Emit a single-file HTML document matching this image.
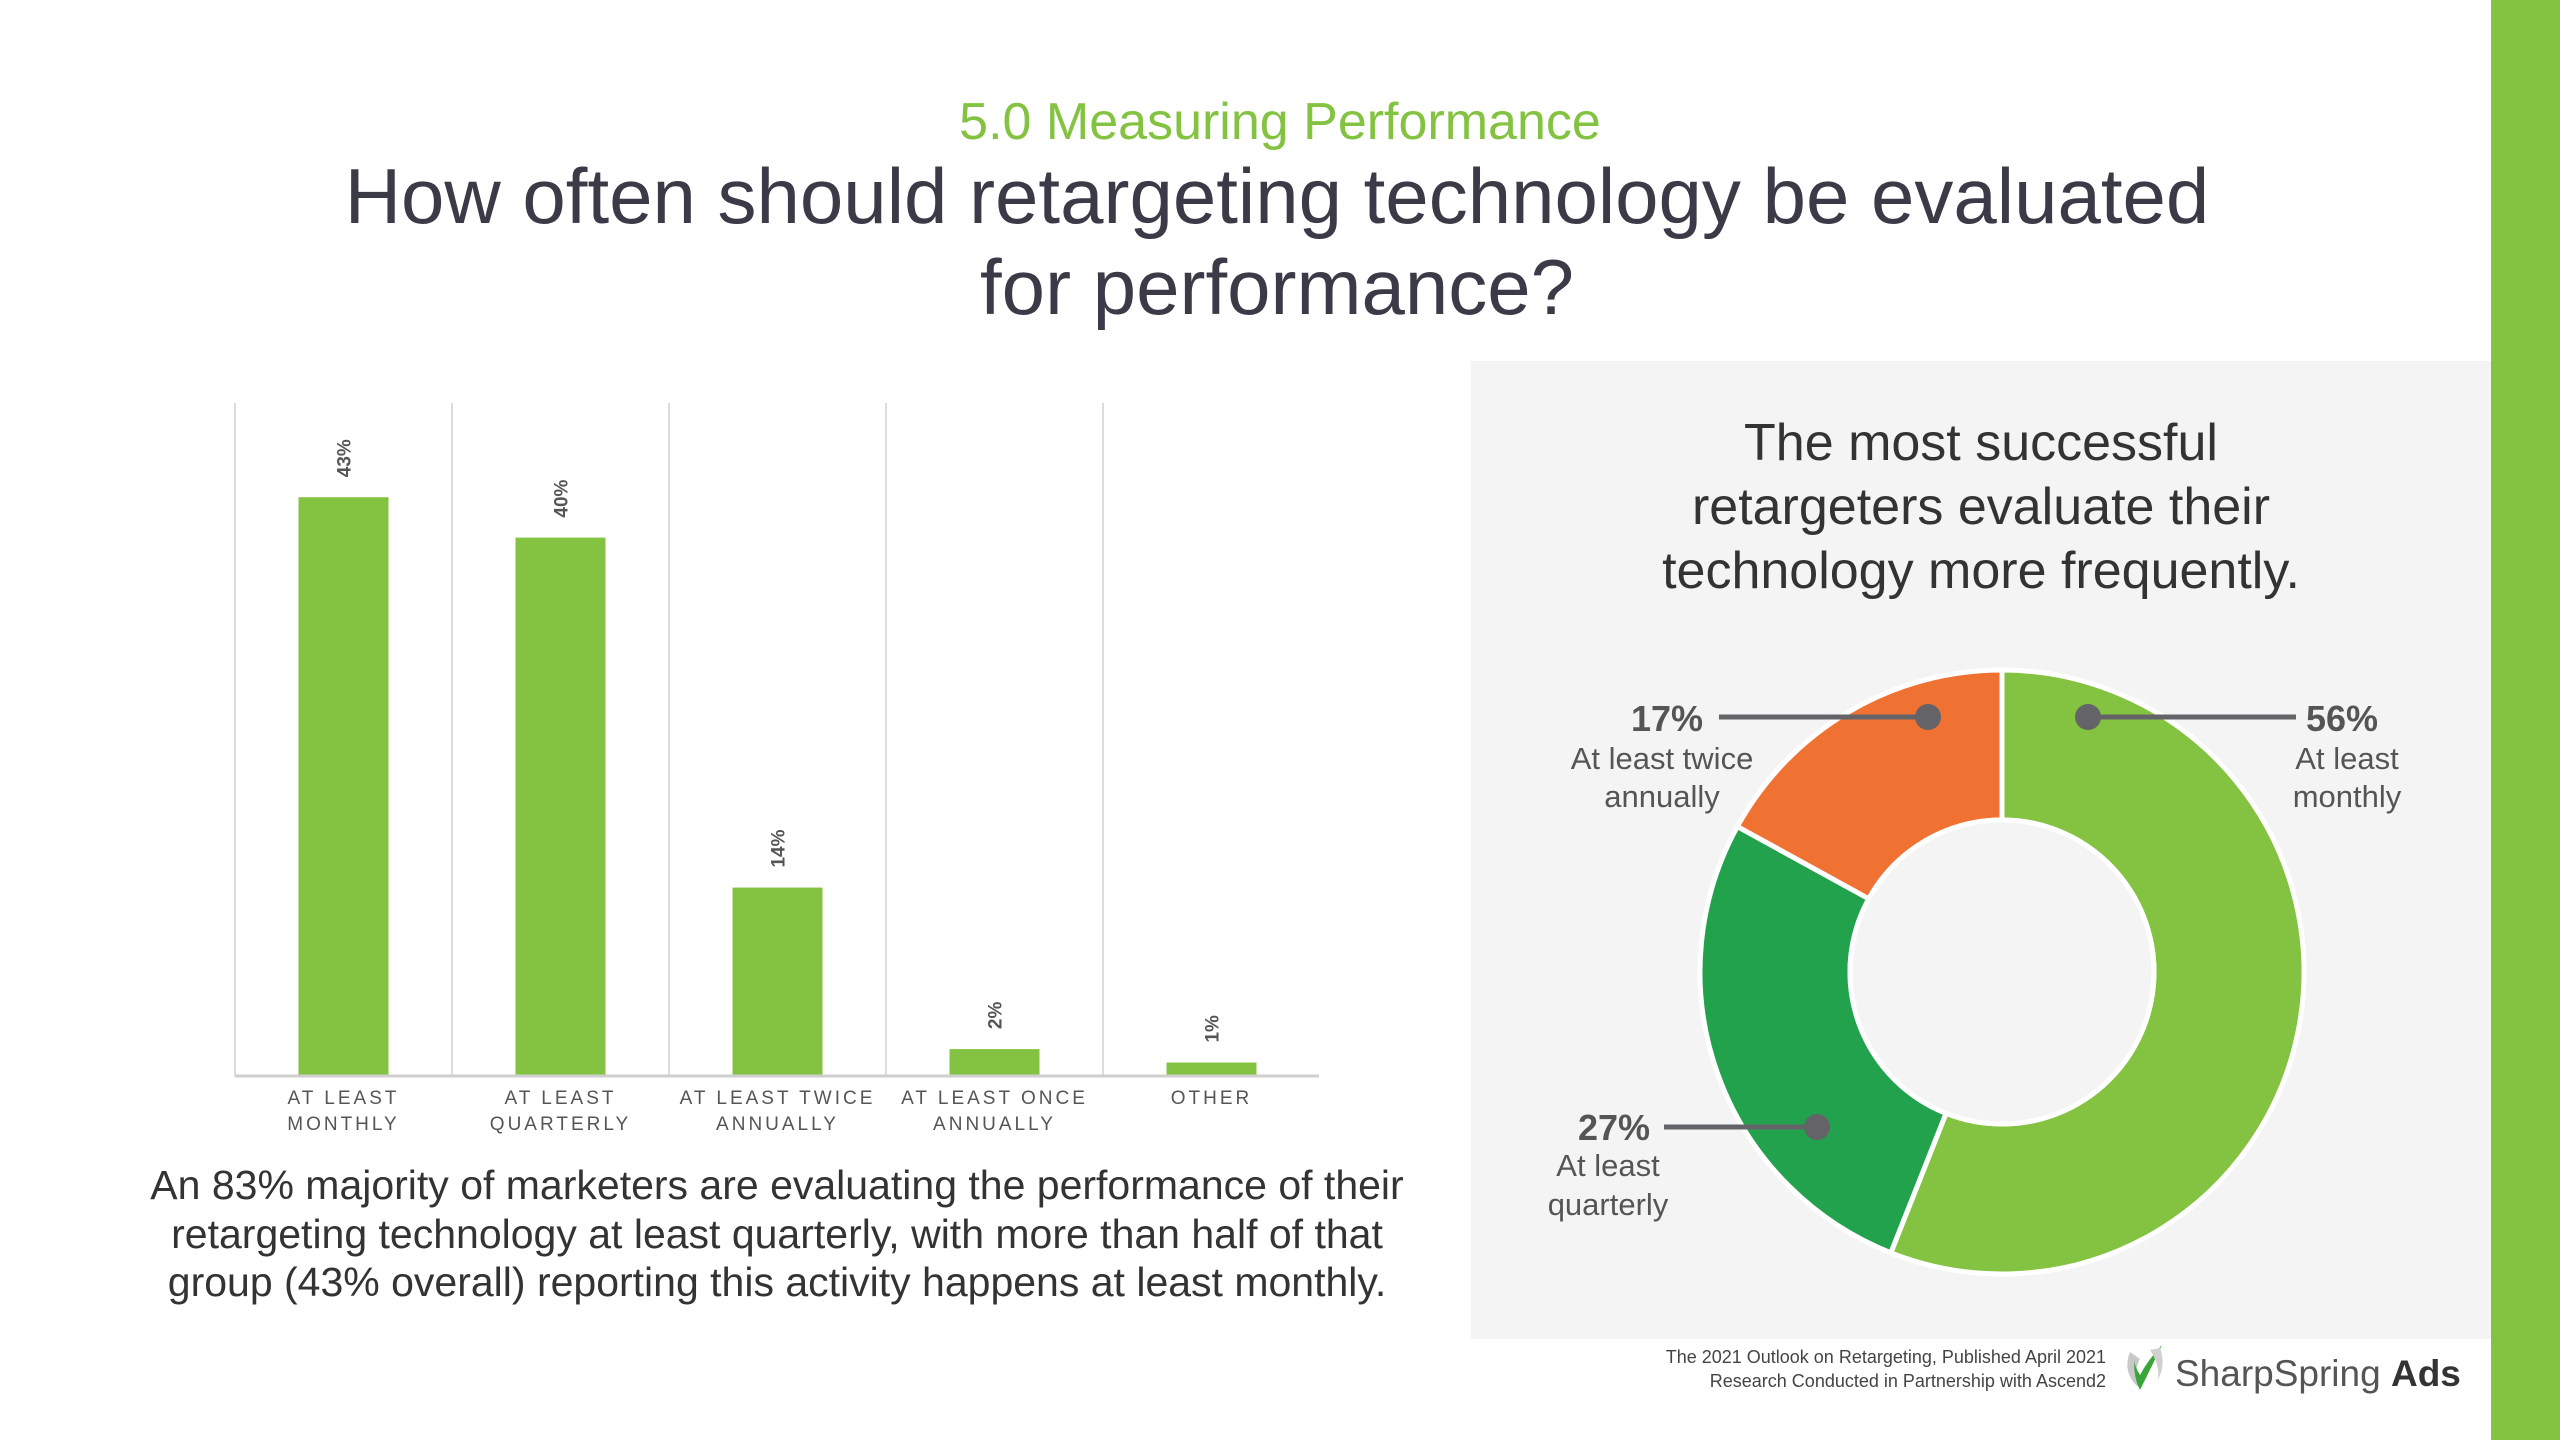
<!DOCTYPE html>
<html><head><meta charset="utf-8"><style>
html,body{margin:0;padding:0;background:#fff;}
svg{display:block;font-family:"Liberation Sans",sans-serif;}
</style></head><body>
<svg id="page" width="2560" height="1440" viewBox="0 0 2560 1440">
<rect x="2491" y="0" width="69" height="1440" fill="#84c341"/>
<rect x="1471" y="361" width="1020" height="978" fill="#f4f4f4"/>
<text x="1280" y="139" text-anchor="middle" font-size="52" fill="#84c341">5.0 Measuring Performance</text>
<text x="1277" y="223" text-anchor="middle" font-size="78" fill="#3b3b48">How often should retargeting technology be evaluated</text>
<text x="1277" y="314" text-anchor="middle" font-size="78" fill="#3b3b48">for performance?</text>
<g id="bars"></g>
<g font-size="41" fill="#333" text-anchor="middle">
<text x="777" y="1199">An 83% majority of marketers are evaluating the performance of their</text>
<text x="777" y="1248">retargeting technology at least quarterly, with more than half of that</text>
<text x="777" y="1296">group (43% overall) reporting this activity happens at least monthly.</text>
</g>
<g font-size="52" fill="#333" text-anchor="middle">
<text x="1981" y="460">The most successful</text>
<text x="1981" y="524">retargeters evaluate their</text>
<text x="1981" y="588">technology more frequently.</text>
</g>
<g id="donut"></g>
<g>
<line x1="2088" y1="717" x2="2296" y2="717" stroke="#636368" stroke-width="5"/>
<circle cx="2088" cy="717" r="13" fill="#636368"/>
<text x="2306" y="731" font-size="36" font-weight="bold" fill="#555">56%</text>
<text x="2347" y="769" font-size="31" fill="#555" text-anchor="middle">At least</text>
<text x="2347" y="807" font-size="31" fill="#555" text-anchor="middle">monthly</text>
</g>
<g>
<line x1="1719" y1="717" x2="1928" y2="717" stroke="#636368" stroke-width="5"/>
<circle cx="1928" cy="717" r="13" fill="#636368"/>
<text x="1703" y="731" font-size="36" font-weight="bold" fill="#555" text-anchor="end">17%</text>
<text x="1662" y="769" font-size="31" fill="#555" text-anchor="middle">At least twice</text>
<text x="1662" y="807" font-size="31" fill="#555" text-anchor="middle">annually</text>
</g>
<g>
<line x1="1664" y1="1127" x2="1817" y2="1127" stroke="#636368" stroke-width="5"/>
<circle cx="1817" cy="1127" r="13" fill="#636368"/>
<text x="1650" y="1140" font-size="36" font-weight="bold" fill="#555" text-anchor="end">27%</text>
<text x="1608" y="1176" font-size="31" fill="#555" text-anchor="middle">At least</text>
<text x="1608" y="1215" font-size="31" fill="#555" text-anchor="middle">quarterly</text>
</g>
<g font-size="18" fill="#444" text-anchor="end">
<text x="2106" y="1363">The 2021 Outlook on Retargeting, Published April 2021</text>
<text x="2106" y="1387">Research Conducted in Partnership with Ascend2</text>
</g>
<g>
<path d="M2130 1352 q-8 20 8 35 q-4-18 2-28z" fill="#c8c8c8"/>
<path d="M2140 1390 q10-20 22-45 q-14 15-22 30 q-5-8-6-14 q0 18 6 29z" fill="#3aa63a"/>
<path d="M2150 1350 q10 15 8 30 q8-16 2-32z" fill="#d0d0d0"/>
<text x="2175" y="1386" font-size="37" fill="#555">SharpSpring <tspan font-weight="bold" fill="#333">Ads</tspan></text>
</g>
</svg>
<script>
const categories=["AT LEAST|MONTHLY","AT LEAST|QUARTERLY","AT LEAST TWICE|ANNUALLY","AT LEAST ONCE|ANNUALLY","OTHER"];
const barValues=[43,40,14,2,1];
const barLabels=["43%","40%","14%","2%","1%"];
const donutValues=[56,27,17];
const donutNames=["at-least-monthly","at-least-quarterly","at-least-twice-annually"];
const donutColors=["#84c341","#23a24d","#f07233"];

const NS="http://www.w3.org/2000/svg";
function mk(tag,attrs,parent){const e=document.createElementNS(NS,tag);for(const k in attrs)e.setAttribute(k,attrs[k]);parent.appendChild(e);return e;}
const bars=document.getElementById('bars');
const X0=235,X1=1319,Y0=1076,Y1=403,VMAX=50;
const band=217;
function xC(i){return X0+band*(i+0.5);}
function yV(v){return Y0-(v/VMAX)*(Y0-Y1);}
for(let i=0;i<5;i++){
  const g=mk('line',{x1:X0+band*i,x2:X0+band*i,y1:Y1,y2:Y0,stroke:'#dcdcdc','stroke-width':2},bars);
  
  
}
categories.forEach((c,i)=>{
  const v=barValues[i];
  const r=mk('rect',{x:xC(i)-45,y:yV(v),width:90,height:Y0-yV(v),fill:'#84c341'},bars);
  
  
  const t=mk('text',{transform:`translate(${xC(i)+7},${yV(v)-20}) rotate(-90)`,'font-size':19,'font-weight':'bold',fill:'#555'},bars);
  t.textContent=barLabels[i];
  
  
  c.split('|').forEach((ln,j)=>{
    const tl=mk('text',{x:xC(i),y:1104+j*26,'text-anchor':'middle','font-size':19,'letter-spacing':3,fill:'#555'},bars);
    tl.textContent=ln;
    
    
  });
});
const ax=mk('line',{x1:X0,x2:X1,y1:Y0,y2:Y0,stroke:'#cfcfcf','stroke-width':3},bars);



const donut=document.getElementById('donut');
const cx=2002,cy=972,R=302,r0=152;
const total=donutValues.reduce((a,b)=>a+b,0);
let a=0;
function pt(rad,ang){return [cx+rad*Math.sin(ang),cy-rad*Math.cos(ang)];}
donutValues.forEach((v,i)=>{
  const a0=a/total*2*Math.PI;a+=v;const a1=a/total*2*Math.PI;
  const lg=(a1-a0)>Math.PI?1:0;
  const [x1,y1]=pt(R,a0),[x2,y2]=pt(R,a1),[x3,y3]=pt(r0,a1),[x4,y4]=pt(r0,a0);
  const p=mk('path',{d:`M${x1},${y1}A${R},${R} 0 ${lg} 1 ${x2},${y2}L${x3},${y3}A${r0},${r0} 0 ${lg} 0 ${x4},${y4}Z`,fill:donutColors[i],stroke:'#fff','stroke-width':5},donut);
  
  
});
const hole=mk('circle',{cx:cx,cy:cy,r:r0,fill:'#f4f4f4',stroke:'#fff','stroke-width':5},donut);


</script>
</body></html>
